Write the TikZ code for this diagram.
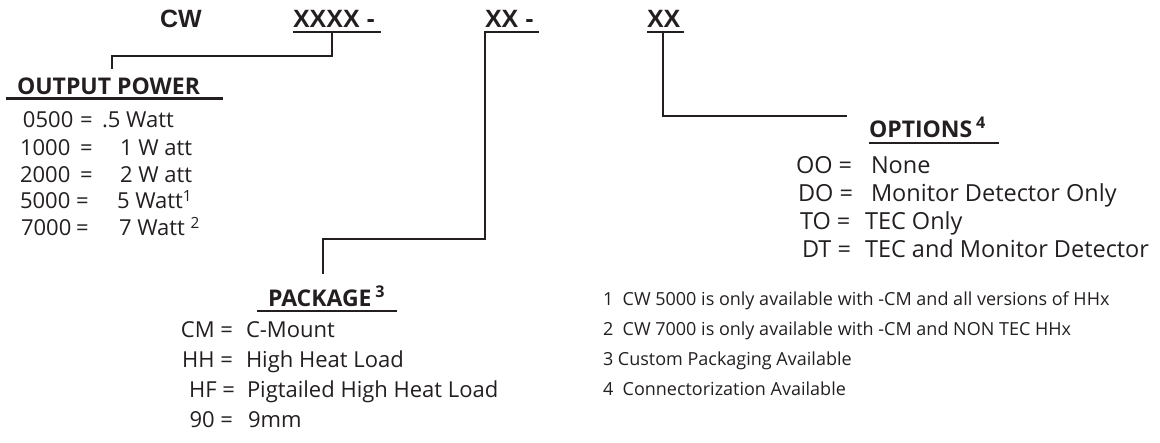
\documentclass[tikz,border=0pt]{standalone}
\usepackage{fontspec}
\setmainfont{Open Sans}
\newfontfamily\titlefont{Liberation Sans}
\definecolor{ink}{RGB}{35,31,32}
\begin{document}
\begin{tikzpicture}[x=1pt,y=-1pt,
  every node/.style={inner sep=0pt, outer sep=0pt, anchor=base west, text=ink},
  ttl/.style={font=\titlefont\bfseries\fontsize{25}{30}\selectfont},
  hdr/.style={font=\bfseries\fontsize{23}{27}\selectfont},
  item/.style={font=\fontsize{22}{26}\selectfont},
  oitem/.style={font=\fontsize{23.5}{28}\selectfont},
  keyr/.style={item, anchor=base east},
  note/.style={font=\fontsize{18}{22}\selectfont},
  uline/.style={line width=2.6pt, draw=ink},
  conn/.style={line width=2pt, draw=ink, line cap=rect}]
\useasboundingbox (0,0) rectangle (1160,443);

% title
\node[ttl] (cw) at (160,28) {CW};
\node[ttl] (t1) at (293,28) {XXXX -};
\node[ttl] (t2) at (485,28) {XX -};
\node[ttl] (t3) at (647,28) {XX};
\draw[uline] (293,32) -- (381,32);
\draw[uline] (485,32) -- (539,32);
\draw[uline] (647,32) -- (684,32);
\coordinate (u1) at (332,32);
\coordinate (u2) at (485,32);
\coordinate (u3) at (663,32);

% output power
\node[hdr] (op) at (17,95) {OUTPUT POWER};
\draw[uline] (6,98.5) -- (223,98.5);
\coordinate (opt) at (112,68);
\draw[conn] (u1) |- (opt |- 0,56) -- (opt);

\node[item] (k1) at (23,128) {0500}; \node[item] (e1) at (80,128) {=}; \node[item] (v1) at (102,128) {.5 Watt};
\node[item] (k2) at (20,156) {1000}; \node[item] (e2) at (80,156) {=}; \node[item] (v2) at (120,156) {1 W att};
\node[item] (k3) at (20,183) {2000}; \node[item] (e3) at (80,183) {=}; \node[item] (v3) at (120,183) {2 W att};
\node[item] (k4) at (20,209) {5000}; \node[item] (e4) at (76,209) {=}; \node[item] (v4) at (117,209) {5 Watt\textsuperscript{1}};
\node[item] (k5) at (21,236) {7000}; \node[item] (e5) at (76,236) {=}; \node[item] (v5) at (119,236) {7 Watt \textsuperscript{2}};

% package
\node[hdr] (pk) at (268,307) {PACKAGE\,\textsuperscript{3}};
\draw[uline] (257,311) -- (397,311);
\coordinate (pkt) at (323,273);
\draw[conn] (u2) |- (pkt |- 0,239) -- (pkt);

\node[keyr] (p1k) at (233,338) {CM =};  \node[item] (p1v) at (246,338) {C-Mount};
\node[keyr] (p2k) at (233,368) {HH =};  \node[item] (p2v) at (246,368) {High Heat Load};
\node[keyr] (p3k) at (235,398) {HF =};  \node[item] (p3v) at (247,398) {Pigtailed High Heat Load};
\node[keyr] (p4k) at (233,428) {90 =};  \node[item] (p4v) at (248,428) {9mm};

% options
\coordinate (ot) at (846,116);
\draw[conn] (u3) |- (ot);
\node[hdr] (os) at (869,138) {OPTIONS\,\textsuperscript{4}};
\draw[uline] (869,143) -- (999,143);

\node[oitem] (o1k) at (796,174) {OO =};  \node[oitem] (o1v) at (871,174) {None};
\node[oitem] (o2k) at (798,202) {DO =};  \node[oitem] (o2v) at (871,202) {Monitor Detector Only};
\node[oitem] (o3k) at (800,230) {TO =};  \node[oitem] (o3v) at (865,230) {TEC Only};
\node[oitem] (o4k) at (802,258) {DT =};  \node[oitem] (o4v) at (865,258) {TEC and Monitor Detector};

% notes
\node[note] (n1) at (603,306) {1\ \ CW 5000 is only available with -CM and all versions of HHx};
\node[note] (n2) at (603,336) {2\ \ CW 7000 is only available with -CM and NON TEC HHx};
\node[note] (n3) at (603,366) {3 Custom Packaging Available};
\node[note] (n4) at (603,396) {4\ \ Connectorization Available};
\end{tikzpicture}
\end{document}
